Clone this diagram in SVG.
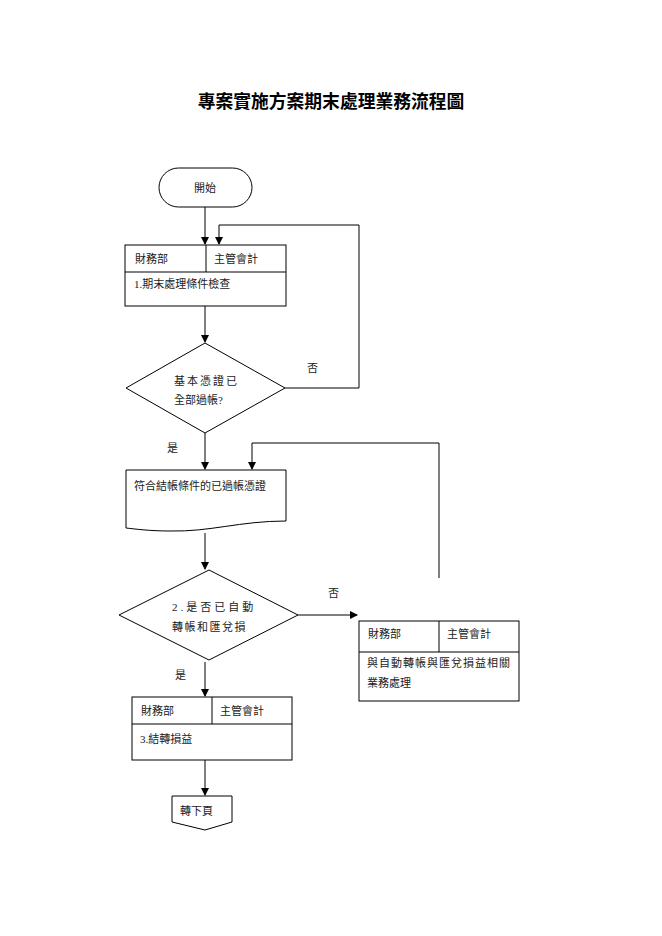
<svg xmlns="http://www.w3.org/2000/svg" width="662" height="936" viewBox="0 0 662 936">
<style>
.s{fill:#fff;stroke:#000;stroke-width:1}
.l{fill:none;stroke:#000;stroke-width:1}
text{font-family:"Liberation Serif","Noto Sans CJK TC",serif;font-size:11px;fill:#222}
.t{font-family:"Noto Sans CJK TC",sans-serif;font-size:17.8px;font-weight:bold;fill:#000}
</style>
<defs><marker id="a" markerWidth="8" markerHeight="8" refX="7" refY="4" orient="auto" markerUnits="userSpaceOnUse"><path d="M0,0L8,4L0,8Z" fill="#000"/></marker></defs>
<rect width="662" height="936" fill="#fff"/>
<text class="t" x="331" y="108" text-anchor="middle">專案實施方案期末處理業務流程圖</text>
<g id="connectors">
<path class="l" d="M205,207V244" marker-end="url(#a)"/>
<path class="l" d="M285,388H359V225H219V244" marker-end="url(#a)"/>
<path class="l" d="M205,306V342" marker-end="url(#a)"/>
<path class="l" d="M205,433V469" marker-end="url(#a)"/>
<path class="l" d="M439,578V443H252V469" marker-end="url(#a)" stroke="#888"/>
<path class="l" d="M205,533V569" marker-end="url(#a)"/>
<path class="l" d="M298,615H357" marker-end="url(#a)"/>
<path class="l" d="M205,662V696" marker-end="url(#a)"/>
<path class="l" d="M205,760V795" marker-end="url(#a)"/>
<text x="307" y="372">否</text>
<text x="167" y="452">是</text>
<text x="328" y="597">否</text>
<text x="175" y="679">是</text>
</g>
<g id="start"><rect class="s" x="159" y="168" width="93" height="39" rx="19.5"/><text x="205" y="192" text-anchor="middle">開始</text></g>
<g id="step1"><rect class="s" x="125" y="245" width="161" height="61"/><path class="l" d="M125,272H286M206,245V272"/><text x="135" y="263">財務部</text><text x="214" y="263">主管會計</text><text x="134" y="288">1.期末處理條件檢查</text></g>
<g id="dec1"><path class="s" d="M205,343L285,388L205,433L126,388Z"/><text x="174" y="385" letter-spacing="2">基本憑證已</text><text x="174" y="404">全部過帳?</text></g>
<g id="doc"><path class="s" d="M126,470H286V521C240,521 210,532 170,531C150,531 135,529 126,528Z"/><text x="134" y="490">符合結帳條件的已過帳憑證</text></g>
<g id="dec2"><path class="s" d="M209,570L298,615L209,660L119,615Z"/><text x="172" y="611" letter-spacing="3">2.是否已自動</text><text x="172" y="631" letter-spacing="1.5">轉帳和匯兌損</text></g>
<g id="side"><rect class="s" x="359" y="621" width="160" height="80"/><path class="l" d="M359,652H519M439,621V652"/><text x="368" y="638">財務部</text><text x="447" y="638">主管會計</text><text x="367" y="667" letter-spacing="1">與自動轉帳與匯兌損益相關</text><text x="367" y="687">業務處理</text></g>
<g id="step3"><rect class="s" x="132" y="697" width="160" height="63"/><path class="l" d="M132,724H292M212,697V724"/><text x="141" y="715">財務部</text><text x="220" y="715">主管會計</text><text x="140" y="743">3.結轉損益</text></g>
<g id="next"><path class="s" d="M172,796H232V822L205,830L172,822Z"/><text x="180" y="815">轉下頁</text></g>
</svg>
